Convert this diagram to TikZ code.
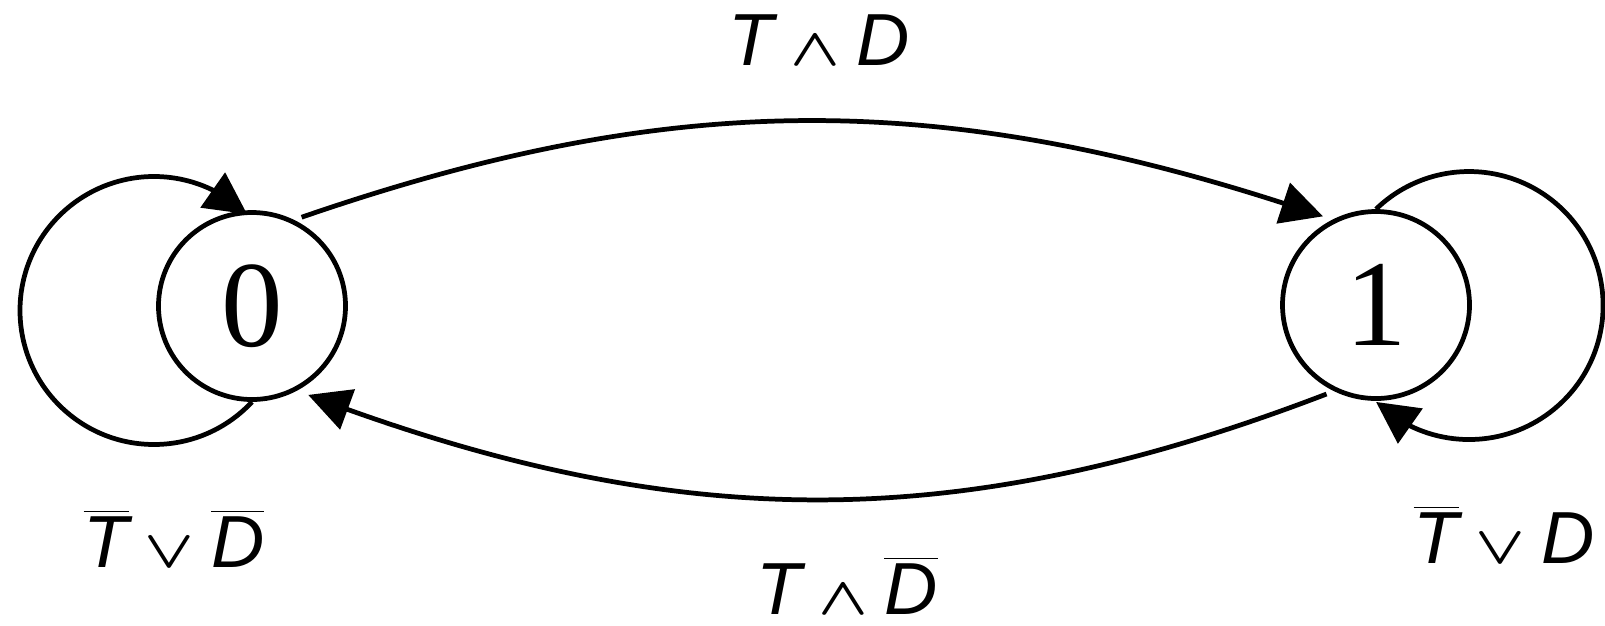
\documentclass[tikz,border=0pt]{standalone}
\usepackage{fix-cm}
\usepackage{bm}
\usepackage{fontspec}
\setmainfont{Liberation Sans}
\newfontfamily\statefont{Liberation Serif}
\usetikzlibrary{arrows.meta,bending}
\newcommand{\sym}[1]{\mbox{\itshape #1}}
\newcommand{\nsym}[1]{\overline{\sym{#1}}}
\newcommand{\myand}{\mathbin{\scalebox{0.88}[0.72]{$\bm{\wedge}$}}}
\newcommand{\myor}{\mathbin{\scalebox{0.88}[0.72]{$\bm{\vee}$}}}
\begin{document}
\begin{tikzpicture}[
    state/.style={draw, circle, line width=1.35pt, minimum size=1.87cm, inner sep=0pt,
      font=\statefont\fontsize{35}{35}\selectfont},
    trans/.style={line width=1.35pt, -{Triangle[length=4.2mm, width=4.2mm, flex]}},
    cond/.style={anchor=base, inner sep=0pt, font=\fontsize{21}{25}\selectfont}]
    \useasboundingbox (0,0) rectangle (16.05,6.25);
    % states
    \node[state] (s0) at (2.52,3.19) {0};
    \node[state] (s1) at (13.76,3.20) {1};
    % self loops
    \draw[trans] (s0.south) arc[start angle=-43, end angle=-314, radius=1.34cm];
    \draw[trans] (s1.north) arc[start angle=134, end angle=-134, radius=1.34cm];
    % transitions between states
    \draw[trans, shorten <=0.08cm, shorten >=0.1cm] (s0.64) to[bend left=19] (s1.117);
    \draw[trans, shorten <=0.08cm, shorten >=0.12cm] (s1.244) to[bend left=21] (s0.-62);
    % conditions
    \node[cond] (c01) at (8.19,5.60) {$\sym{T}\myand\sym{D}$};
    \node[cond] (c00) at (1.74,0.58) {$\nsym{T}\myor\nsym{D}$};
    \node[cond] (c10) at (8.47,0.11) {$\sym{T}\myand\nsym{D}$};
    \node[cond] (c11) at (15.04,0.62) {$\nsym{T}\myor\sym{D}$};
\end{tikzpicture}
\end{document}
